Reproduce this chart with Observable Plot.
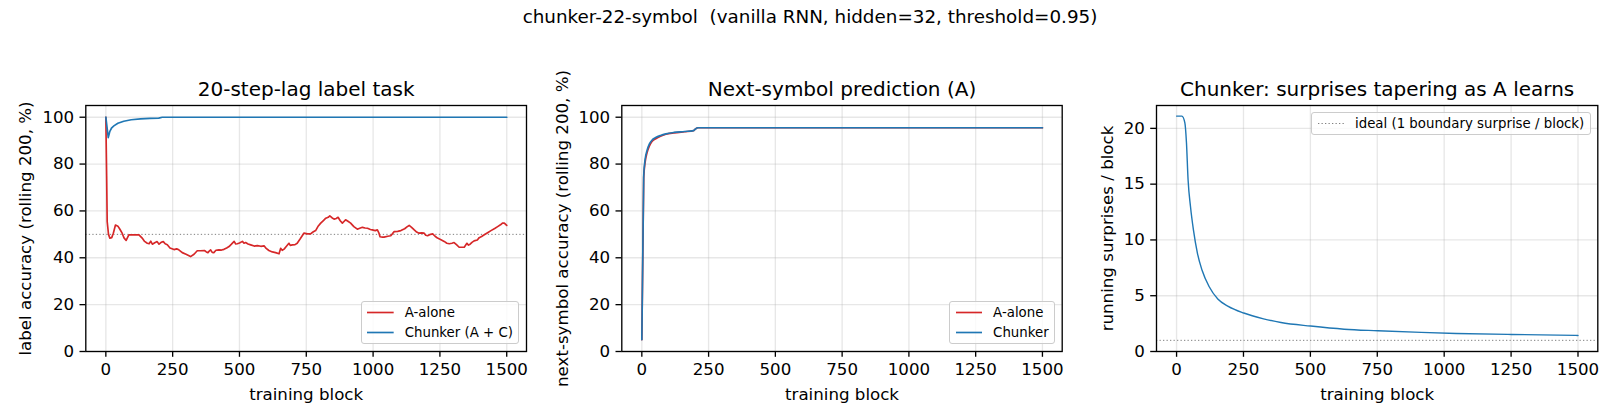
<!DOCTYPE html>
<html>
<head>
<meta charset="utf-8">
<script src="https://cdn.jsdelivr.net/npm/d3@7"></script>
<script src="https://cdn.jsdelivr.net/npm/@observablehq/plot@0.6"></script>
<style>
  body { margin: 0; background: #fff; font-family: "DejaVu Sans", sans-serif; color: #000; }
  #fig { position: relative; width: 1620px; height: 420px; overflow: hidden; background: #fff; }
  .panel { position: absolute; top: 0; width: 540px; height: 420px; }
  .suptitle { position: absolute; left: 0; top: 7.5px; width: 1620px; text-align: center;
              font-size: 18.33px; line-height: 18.33px; white-space: pre; }
  .legend { position: absolute; background: rgba(255,255,255,0.8); border: 1px solid #cccccc;
            border-radius: 3px; padding: 4.3px 5.33px; font-size: 13.33px; }
  .legend .row { display: flex; align-items: center; height: 13px; line-height: 13px; white-space: nowrap; }
  .legend .row + .row { margin-top: 6.7px; }
  .legend svg { margin-right: 10.67px; display: block; }
</style>
</head>
<body>
<div id="fig"></div>
<script>
// ---------- data ----------
const xTicks = [0, 250, 500, 750, 1000, 1250, 1500];
const accTicks = [0, 20, 40, 60, 80, 100];
const surpriseTicks = [0, 5, 10, 15, 20];

// Panel 1: 20-step-lag label task
const labelAloneX = [0,3,5,10,15,22,28,36,45,52,
  61,68,76,86,100,124,136,145,155,162,
  168,174,183,192,199,207,215,222,230,240,
  255,265,273,286,300,317,330,342,354,369,
  376,382,388,392,398,404,412,423,433,442,
  452,461,470,480,486,492,500,511,517,523,
  532,542,555,567,580,592,600,610,623,635,
  648,654,660,667,675,685,690,698,708,716,
  728,741,755,766,775,785,795,804,815,823,
  832,838,846,854,862,869,877,885,891,897,
  906,916,928,941,950,960,970,979,990,997,
  1008,1016,1022,1026,1035,1041,1055,1066,1072,1079,
  1092,1104,1118,1128,1135,1144,1154,1163,1172,1182,
  1191,1197,1204,1215,1223,1232,1241,1254,1266,1276,
  1285,1295,1303,1312,1322,1341,1351,1357,1363,1370,
  1378,1390,1397,1406,1416,1430,1441,1455,1466,1478,
  1484,1491,1500];
const labelAloneY = [100,75,55.5,50,48.4,48.6,50.5,54,53.5,52.3,
  50.5,48.5,47.4,49.8,49.8,49.8,48.4,47,46.2,46,
  47.1,45.8,46.4,46.9,45.8,46.6,46.9,46,45.6,44.2,
  43.5,43.8,43.4,42.2,41.5,40.5,41.5,43,43,43.1,
  42.5,42.2,43,43.4,42.3,42.2,43.2,43.4,43.3,43.6,
  44.2,44.8,45.8,47,45.9,46,46.3,47,46.2,46.5,
  45.9,45.5,45,45.2,44.9,45.1,44,43.1,42.5,42.2,
  41.7,44,43.2,43.7,44.8,46.2,45.3,45.5,45.6,46.2,
  48.2,50.5,50.2,50.2,51,51.6,53.6,54.8,56,56.9,
  57.3,57.9,57.1,56.5,56.8,57.3,55.8,54.8,55.5,56.2,
  55.6,54.8,53.3,52.2,52.6,53,52.7,52.6,52.1,51.9,
  51.6,51.9,50.5,49,48.8,48.8,49.2,49.4,50.2,51.2,
  51.3,51.6,52.4,53.3,53.8,53,51.9,51,50.5,50.6,
  50.5,49.6,49.4,50,50.2,49.2,48.4,47.7,47,46.2,
  46,46.2,46.5,45.6,44.5,44.5,46.2,45.4,45.8,46.6,
  47.2,47.6,48.6,49.1,49.8,50.8,51.6,52.5,53.3,54.2,
  54.8,54.8,53.8];
const labelChunkerX = [0, 9, 15, 22, 30, 45, 67, 95, 130, 165, 198, 211, 1500];
const labelChunkerY = [100, 91.3, 94, 95.5, 96.3, 97.4, 98.3, 98.9, 99.3, 99.5, 99.6, 100, 100];
const chanceLevel = [50];

// Panel 2: next-symbol prediction
const nextX = [0, 7, 12, 20, 28, 38, 52, 70, 90, 120, 160, 193, 200, 210, 1500];
const nextAloneY = [5, 74, 80.5, 85, 87.6, 89.6, 90.8, 91.9, 92.7, 93.3, 93.8, 94.2, 94.9, 95.5, 95.5];
const nextChunkerY = [5, 75, 81.7, 86, 88.5, 90.2, 91.3, 92.2, 92.9, 93.5, 93.9, 94.3, 94.9, 95.5, 95.5];

// Panel 3: running surprises per block
const surpriseX = [0, 20, 31, 37, 43, 52, 63, 78, 95, 122, 154, 193, 251, 325, 390, 501, 626, 752, 914, 1045, 1252, 1500];
const surpriseY = [21.1, 21.1, 20.5, 18.7, 15.4, 13, 10.9, 8.8, 7.3, 5.8, 4.7, 4.05, 3.45, 2.93, 2.6, 2.28, 2.0, 1.86, 1.71, 1.62, 1.53, 1.44];
const idealSurprises = [1];

const RED = "#d62728", BLUE = "#1f77b4";

// ---------- drawing ----------
const fig = document.getElementById("fig");
const sup = document.createElement("div");
sup.className = "suptitle";
sup.textContent = "chunker-22-symbol  (vanilla RNN, hidden=32, threshold=0.95)";
fig.appendChild(sup);

const fmt = d => String(d);
const gridStyle = {stroke: "#b0b0b0", strokeOpacity: 0.3, strokeWidth: 1.33};

function panel({left, mLeft, mRight, yDomain, yTicks, yLabel, yLabelOffset, title, marks}) {
  const p = Plot.plot({
    width: 540, height: 420,
    marginLeft: mLeft, marginRight: mRight, marginTop: 105, marginBottom: 69,
    style: {fontFamily: '"DejaVu Sans", sans-serif', fontSize: "16.67px", background: "transparent", color: "#000", overflow: "visible"},
    x: {domain: [-75, 1574]},
    y: {domain: yDomain},
    marks: [
      Plot.gridX(xTicks, gridStyle),
      Plot.gridY(yTicks, gridStyle),
      ...marks,
      Plot.frame({stroke: "#000", strokeWidth: 1.33}),
      Plot.axisX(xTicks, {tickSize: 5.8, tickPadding: 5.8, strokeWidth: 1.33, tickFormat: fmt,
        label: "training block", labelAnchor: "center", labelOffset: 48, labelArrow: "none"}),
      Plot.axisY(yTicks, {tickSize: 5.8, tickPadding: 5.8, strokeWidth: 1.33, tickFormat: fmt,
        label: yLabel, labelAnchor: "center", labelOffset: yLabelOffset, labelArrow: "none"}),
      Plot.text([title], {text: d => d, frameAnchor: "top", lineAnchor: "bottom", dy: -10, fontSize: 20})
    ]
  });
  const wrap = document.createElement("div");
  wrap.className = "panel";
  wrap.style.left = left + "px";
  wrap.appendChild(p);
  fig.appendChild(wrap);
}

function legend(entries, pos) {
  const div = document.createElement("div");
  div.className = "legend";
  Object.assign(div.style, pos);
  for (const e of entries) {
    const row = document.createElement("div");
    row.className = "row";
    const dash = e.dash ? ` stroke-dasharray="${e.dash}"` : "";
    row.innerHTML = `<svg width="26.67" height="13"><line x1="0" x2="26.67" y1="6.5" y2="6.5" stroke="${e.color}" stroke-width="${e.width}"${dash}/></svg><span></span>`;
    row.querySelector("span").textContent = e.label;
    div.appendChild(row);
  }
  fig.appendChild(div);
}

panel({
  left: 0, mLeft: 85.3, mRight: 14,
  yDomain: [0, 105], yTicks: accTicks,
  yLabel: "label accuracy (rolling 200, %)", yLabelOffset: 67,
  title: "20-step-lag label task",
  marks: [
    Plot.ruleY(chanceLevel, {stroke: "#808080", strokeWidth: 1, strokeDasharray: "1.3,2.2"}),
    Plot.line(labelAloneX, {x: labelAloneX, y: labelAloneY, stroke: RED, strokeWidth: 1.67}),
    Plot.line(labelChunkerX, {x: labelChunkerX, y: labelChunkerY, stroke: BLUE, strokeWidth: 1.67})
  ]
});

panel({
  left: 540, mLeft: 81.3, mRight: 18.3,
  yDomain: [0, 105], yTicks: accTicks,
  yLabel: "next-symbol accuracy (rolling 200, %)", yLabelOffset: 65.5,
  title: "Next-symbol prediction (A)",
  marks: [
    Plot.line(nextX, {x: nextX, y: nextAloneY, stroke: RED, strokeWidth: 1.67, curve: "monotone-x"}),
    Plot.line(nextX, {x: nextX, y: nextChunkerY, stroke: BLUE, strokeWidth: 1.67, curve: "monotone-x"})
  ]
});

panel({
  left: 1080, mLeft: 76, mRight: 22.7,
  yDomain: [0, 22.05], yTicks: surpriseTicks,
  yLabel: "running surprises / block", yLabelOffset: 55,
  title: "Chunker: surprises tapering as A learns",
  marks: [
    Plot.ruleY(idealSurprises, {stroke: "#808080", strokeWidth: 1, strokeDasharray: "1.3,2.2"}),
    Plot.line(surpriseX, {x: surpriseX, y: surpriseY, stroke: BLUE, strokeWidth: 1.4, curve: "monotone-x"})
  ]
});

legend([
  {label: "A-alone", color: RED, width: 1.67},
  {label: "Chunker (A + C)", color: BLUE, width: 1.67}
], {right: "1100.7px", bottom: "75.7px"});

legend([
  {label: "A-alone", color: RED, width: 1.67},
  {label: "Chunker", color: BLUE, width: 1.67}
], {right: "565px", bottom: "75.7px"});

legend([
  {label: "ideal (1 boundary surprise / block)", color: "#808080", width: 1, dash: "1.3,2.2"}
], {right: "29.4px", top: "111.7px"});
</script>
</body>
</html>
